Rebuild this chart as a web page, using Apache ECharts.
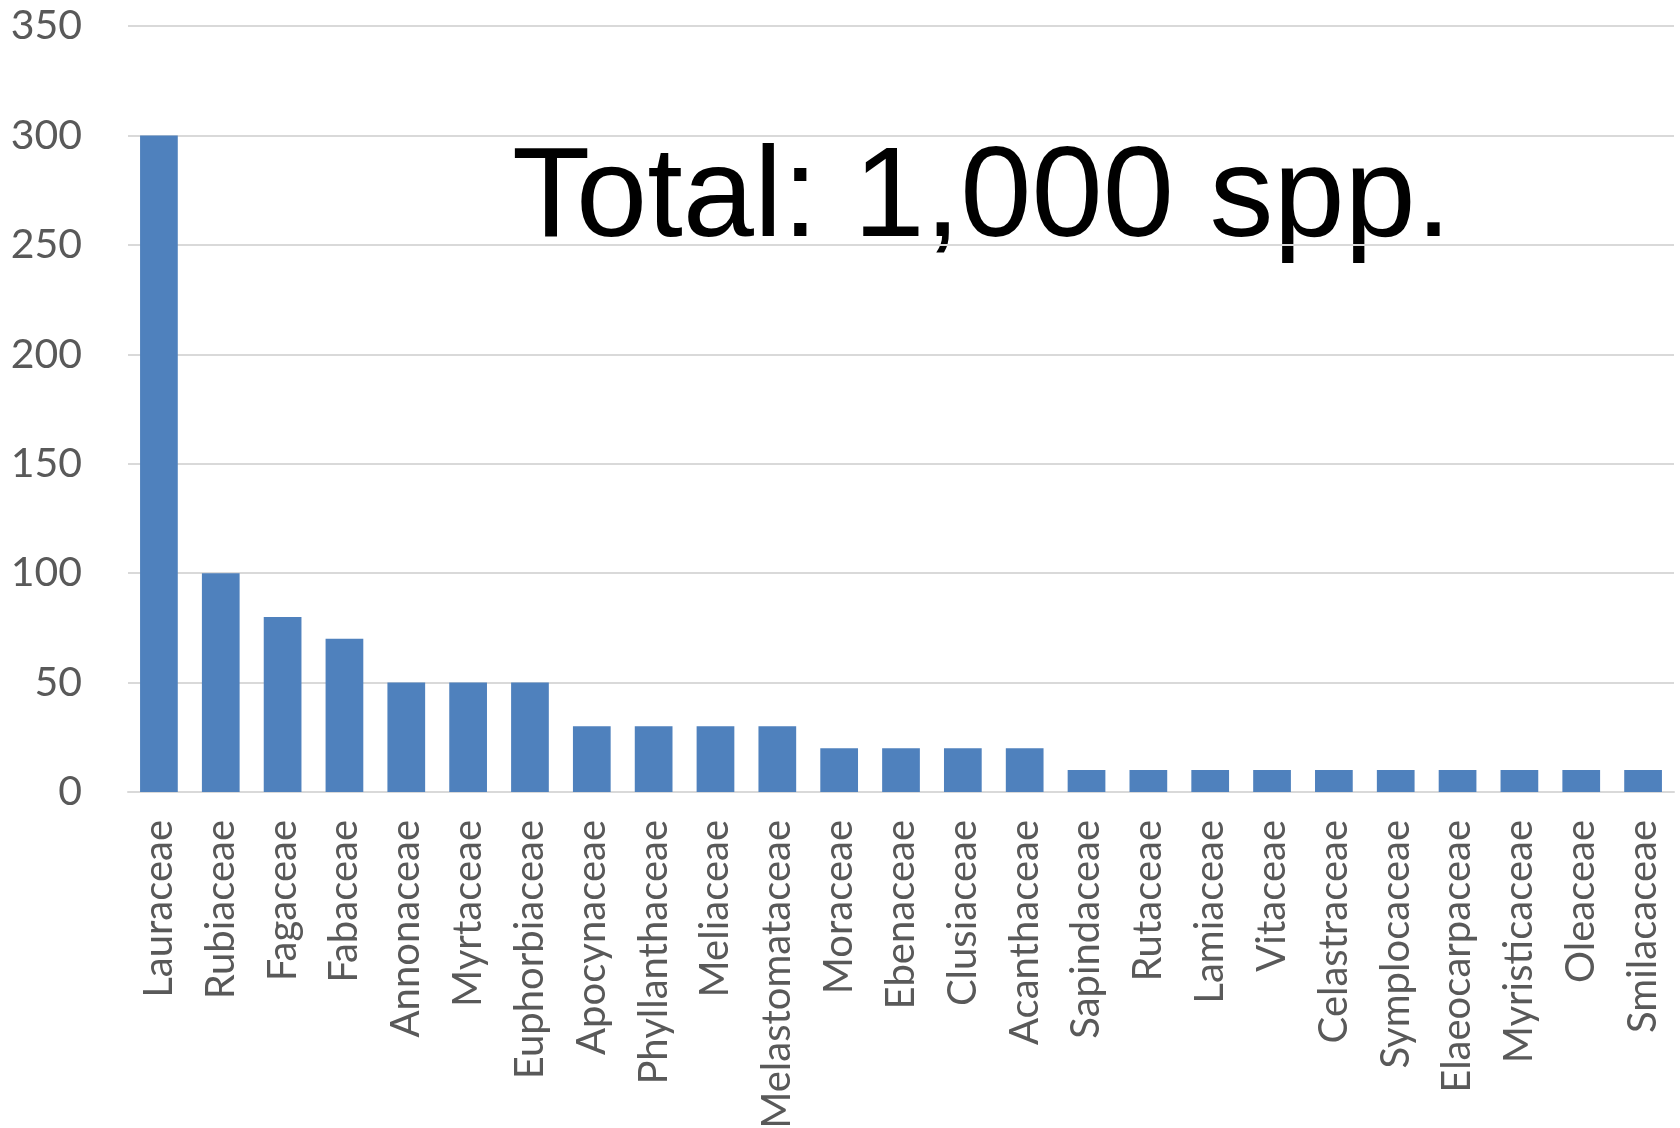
<!DOCTYPE html>
<html>
<head>
<meta charset="utf-8">
<script src="https://cdn.jsdelivr.net/npm/echarts@6/dist/echarts.min.js"></script>
<style>
  html, body { margin: 0; padding: 0; background: #fff; }
  #chart { width: 1680px; height: 1128px; }
</style>
</head>
<body>
<div id="chart"></div>
<script>
// 科名
const families = [
  'Lauraceae', 'Rubiaceae', 'Fagaceae', 'Fabaceae', 'Annonaceae', 'Myrtaceae',
  'Euphorbiaceae', 'Apocynaceae', 'Phyllanthaceae', 'Meliaceae', 'Melastomataceae',
  'Moraceae', 'Ebenaceae', 'Clusiaceae', 'Acanthaceae', 'Sapindaceae', 'Rutaceae',
  'Lamiaceae', 'Vitaceae', 'Celastraceae', 'Symplocaceae', 'Elaeocarpaceae',
  'Myristicaceae', 'Oleaceae', 'Smilacaceae'
]
// 种数
const speciesCount = [
  300, 100, 80, 70, 50, 50, 50, 30, 30, 30, 30,
  20, 20, 20, 20, 10, 10, 10, 10, 10, 10, 10, 10, 10, 10
]
const yTicks = [0, 50, 100, 150, 200, 250, 300, 350]
const totalLabel = 'Total: 1,000 spp.'

let dom = document.getElementById('chart')
let myChart = echarts.init(dom)
const option = {
  animation: false,
  grid: {
    left: 128, right: 6, top: 26, bottom: 336,
    containLabel: false,
    outerBoundsMode: 'none'   // 不要自动收缩网格
  },
  xAxis: {
    type: 'category',
    data: families,
    axisLine: { lineStyle: { color: '#d9d9d9', width: 2 } },
    axisTick: { show: false },
    axisLabel: {
      rotate: 90,
      interval: 0,
      margin: 28,
      color: '#595959',
      fontFamily: 'Lato',
      fontSize: 40
    }
  },
  yAxis: {
    type: 'value',
    min: yTicks[0],
    max: yTicks[yTicks.length - 1],
    interval: 50,
    axisLine: { show: false },
    axisTick: { show: false },
    splitLine: { lineStyle: { color: '#d9d9d9', width: 2 } },
    axisLabel: {
      margin: 46,
      color: '#595959',
      fontFamily: 'Lato',
      fontSize: 41
    }
  },
  graphic: [{
    type: 'text',
    left: 512,
    top: 137,
    style: {
      text: totalLabel,
      fill: '#000',
      font: '128px "Liberation Sans"'
    }
  }],
  series: [{
    type: 'bar',
    data: speciesCount,
    barWidth: '61%',
    itemStyle: { color: '#4f81bd' }
  }]
}
myChart.setOption(option)
</script>
</body>
</html>
